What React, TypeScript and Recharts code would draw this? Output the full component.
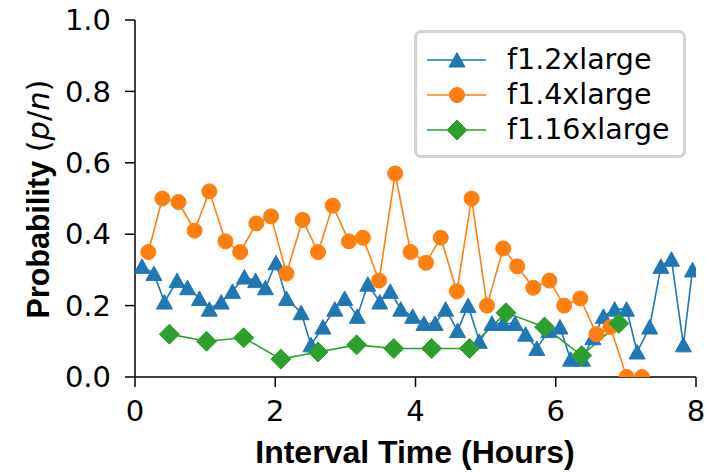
import React from "react";
import { LineChart, Line, XAxis, YAxis, Legend, Label } from "recharts";

// ── Data ───────────────────────────────────────────────────────────────────────
const blueX = [
    0.1, 0.27, 0.42, 0.6, 0.75, 0.92, 1.06, 1.23, 1.39, 1.56, 1.72, 1.86, 2.01, 2.16, 2.37, 2.51, 2.68,
    2.85, 2.99, 3.17, 3.32, 3.49, 3.64, 3.79, 3.96, 4.12, 4.28, 4.43, 4.6, 4.75, 4.91, 5.09, 5.25,
    5.42, 5.57, 5.73, 5.9, 6.06, 6.21, 6.38, 6.53, 6.68, 6.84, 7.01, 7.16, 7.34, 7.5, 7.65, 7.82, 7.95,
];
const blueY = [
    0.31, 0.29, 0.21, 0.27, 0.25, 0.22, 0.19, 0.21, 0.24, 0.28, 0.27, 0.25, 0.32, 0.22, 0.18, 0.09, 0.14,
    0.19, 0.22, 0.17, 0.26, 0.21, 0.24, 0.19, 0.17, 0.15, 0.15, 0.19, 0.13, 0.2, 0.1, 0.15, 0.15,
    0.15, 0.12, 0.08, 0.13, 0.14, 0.05, 0.05, 0.11, 0.17, 0.19, 0.19, 0.07, 0.14, 0.31, 0.33, 0.09, 0.3,
];

const orangeX = [
    0.19, 0.39, 0.62, 0.85, 1.06, 1.29, 1.5, 1.73, 1.94, 2.16, 2.39, 2.61, 2.82, 3.05, 3.25, 3.48, 3.71,
    3.93, 4.15, 4.36, 4.59, 4.8, 5.02, 5.25, 5.45, 5.68, 5.91, 6.12, 6.35, 6.58, 6.78, 7.01, 7.23,
];
const orangeY = [
    0.35, 0.5, 0.49, 0.41, 0.52, 0.38, 0.35, 0.43, 0.45, 0.29, 0.44, 0.35, 0.48, 0.38, 0.39, 0.27, 0.57,
    0.35, 0.32, 0.39, 0.24, 0.5, 0.2, 0.36, 0.31, 0.25, 0.27, 0.2, 0.22, 0.12, 0.14, 0.0, 0.0,
];

const greenX = [0.49, 1.02, 1.55, 2.08, 2.61, 3.16, 3.69, 4.23, 4.77, 5.29, 5.84, 6.37, 6.9];
const greenY = [0.12, 0.1, 0.11, 0.05, 0.07, 0.09, 0.08, 0.08, 0.08, 0.18, 0.14, 0.06, 0.15];

const X_TICKS = [0, 2, 4, 6, 8];
const Y_TICKS = [0, 0.2, 0.4, 0.6, 0.8, 1.0];

const SERIES = [
    { name: "f1.2xlarge", color: "#1f77b4", marker: "triangle", xs: blueX, ys: blueY },
    { name: "f1.4xlarge", color: "#ff7f0e", marker: "circle", xs: orangeX, ys: orangeY },
    { name: "f1.16xlarge", color: "#2ca02c", marker: "diamond", xs: greenX, ys: greenY },
];

const toPoints = (xs: number[], ys: number[]) => xs.map((x, i) => ({ x, y: ys[i] }));

// ── Markers ────────────────────────────────────────────────────────────────────
function Marker({ kind, cx, cy, color }: { kind: string; cx: number; cy: number; color: string }) {
    if (kind === "triangle") {
        return <path d={`M${cx},${cy - 7.5} L${cx + 8},${cy + 7} L${cx - 8},${cy + 7} Z`} fill={color} stroke={color} strokeWidth={1} />;
    }
    if (kind === "diamond") {
        return <path d={`M${cx},${cy - 10} L${cx + 10},${cy} L${cx},${cy + 10} L${cx - 10},${cy} Z`} fill={color} stroke={color} strokeWidth={1} />;
    }
    return <circle cx={cx} cy={cy} r={7.5} fill={color} stroke={color} strokeWidth={1} />;
}

const makeDot = (kind: string, color: string) => (p: any) => {
    if (p.cx == null || p.cy == null) return <g key={`e-${p.index}`} />;
    return (
        <g key={`${kind}-${p.index}`}>
            <Marker kind={kind} cx={p.cx} cy={p.cy} color={color} />
        </g>
    );
};

// ── Legend box ─────────────────────────────────────────────────────────────────
const LegendBox = () => (
    <div
        style={{
            width: 272,
            height: 128,
            border: "3.5px solid #d4d4d4",
            borderRadius: 7,
            boxSizing: "border-box",
            background: "#fff",
            position: "relative",
            fontFamily: "DejaVu Sans",
            fontSize: 28.5,
            color: "#000",
        }}
    >
        {SERIES.map((s, i) => (
            <div key={s.name} style={{ position: "absolute", left: 0, top: 9 + i * 35, height: 36, display: "flex", alignItems: "center" }}>
                <svg width={90} height={36} style={{ display: "block" }}>
                    <line x1={10} x2={69} y1={18} y2={18} stroke={s.color} strokeWidth={1.6} />
                    <Marker kind={s.marker} cx={40} cy={18} color={s.color} />
                </svg>
                <span style={{ whiteSpace: "nowrap", lineHeight: "36px" }}>{s.name}</span>
            </div>
        ))}
    </div>
);

const YLabel = () => (
    <text x={38} y={199} transform="rotate(-90, 38, 199)" textAnchor="middle" dominantBaseline="central" fontSize={30.5} fill="#000">
        <tspan fontFamily="Liberation Sans" fontWeight="bold">Probability </tspan>
        <tspan fontFamily="DejaVu Sans">(</tspan>
        <tspan fontFamily="DejaVu Sans" fontStyle="italic">p</tspan>
        <tspan fontFamily="DejaVu Sans">/</tspan>
        <tspan fontFamily="DejaVu Sans" fontStyle="italic">n</tspan>
        <tspan fontFamily="DejaVu Sans">)</tspan>
    </text>
);

const XLabel = () => (
    <text x={415} y={452} textAnchor="middle" dominantBaseline="central" fontSize={32} fontFamily="Liberation Sans" fontWeight="bold" fill="#000">
        Interval Time (Hours)
    </text>
);

const tickStyle = { fontSize: 29, fontFamily: "DejaVu Sans", fill: "#000" };

export default function App() {
    return (
        <div style={{ position: "absolute", left: 0, top: 0, width: 705, height: 472, background: "#fff" }}>
            <LineChart width={705} height={472} margin={{ top: 20, right: 9, bottom: 0, left: 0 }}>
                <XAxis
                    type="number"
                    dataKey="x"
                    domain={[0, 8]}
                    ticks={X_TICKS}
                    allowDataOverflow
                    height={95}
                    tickSize={10}
                    tickMargin={13}
                    tick={tickStyle}
                    axisLine={{ stroke: "#000", strokeWidth: 1.5 }}
                    tickLine={{ stroke: "#000", strokeWidth: 1.5 }}
                >
                    <Label content={XLabel} />
                </XAxis>
                <YAxis
                    type="number"
                    dataKey="y"
                    domain={[0, 1]}
                    ticks={Y_TICKS}
                    allowDataOverflow
                    width={135}
                    tickSize={10}
                    tickMargin={14}
                    tick={tickStyle}
                    tickFormatter={(v: number) => v.toFixed(1)}
                    axisLine={{ stroke: "#000", strokeWidth: 1.5 }}
                    tickLine={{ stroke: "#000", strokeWidth: 1.5 }}
                >
                    <Label content={YLabel} />
                </YAxis>
                <Legend
                    layout="vertical"
                    align="center"
                    verticalAlign="middle"
                    content={LegendBox}
                    wrapperStyle={{ left: 414, top: 30, width: 272, height: 128 }}
                />
                {SERIES.map((s) => (
                    <Line
                        key={s.name}
                        name={s.name}
                        data={toPoints(s.xs, s.ys)}
                        dataKey="y"
                        type="linear"
                        stroke={s.color}
                        strokeWidth={1.6}
                        dot={makeDot(s.marker, s.color)}
                        activeDot={false}
                        isAnimationActive={false}
                    />
                ))}
            </LineChart>
        </div>
    );
}
